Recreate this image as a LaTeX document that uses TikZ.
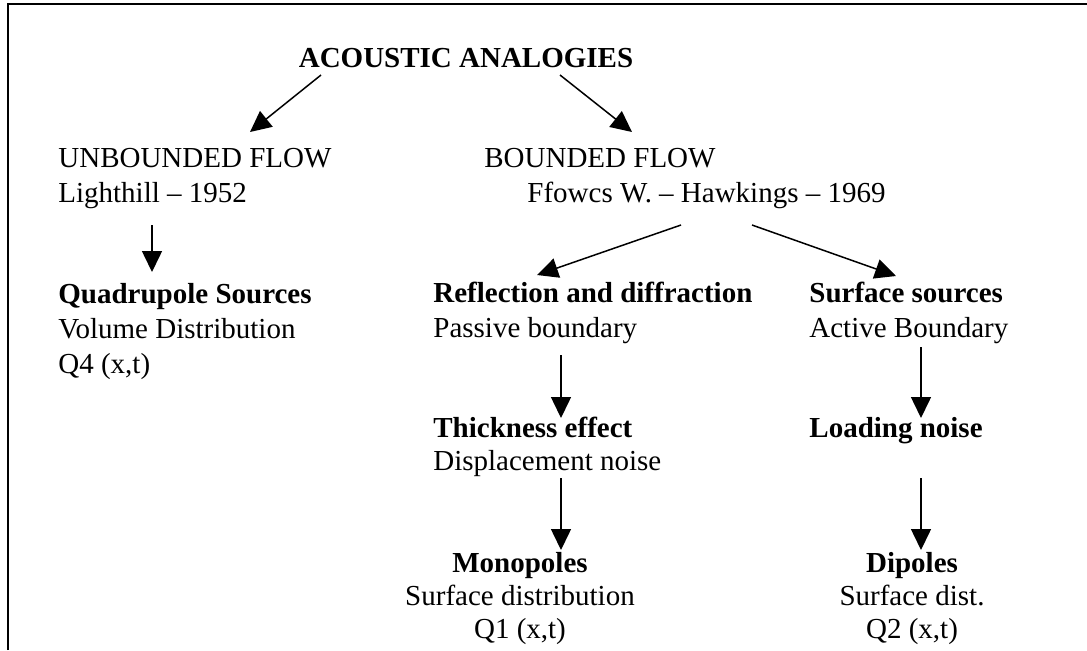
\documentclass[tikz,border=0pt]{standalone}
\usepackage{fontspec}
\setmainfont{Liberation Serif}
\usetikzlibrary{positioning,arrows.meta,calc}

\begin{document}
\begin{tikzpicture}[x=0.5pt, y=-0.5pt,
    every node/.style={inner sep=0pt, font=\fontsize{14.5}{17.4}\selectfont},
    branch/.style={anchor=base west, align=left},
    leaf/.style={anchor=base, align=center, font=\fontsize{14.5}{16.5}\selectfont},
    arrow/.style={line width=0.75pt, -{Triangle[length=10.5pt, width=10pt]}}]

\useasboundingbox (0,0) rectangle (1087,650);
\draw[line width=1pt] (8,650) -- (8,4) -- (1087,4);

\node [anchor=base] (title) at (466,67) {\textbf{ACOUSTIC ANALOGIES}};

% multi-line nodes sit on their last line
\node [branch] (unbound) at (58,202) {UNBOUNDED FLOW\\Lighthill – 1952};
\node [branch] (bound) at (484,202) {BOUNDED FLOW\\\hspace*{21.5pt}Ffowcs W. – Hawkings – 1969};

\node [branch] (quad) at (58,373) {\textbf{Quadrupole Sources}\\Volume Distribution\\Q4 (x,t)};
\node [branch] (reflect) at (433,337) {\textbf{Reflection and diffraction}\\Passive boundary};
\node [branch] (surface) at (809,337) {\textbf{Surface sources}\\Active Boundary};

\node [branch, font=\fontsize{14.5}{16.5}\selectfont] (thick) at (433,470) {\textbf{Thickness effect}\\Displacement noise};
\node [branch] (loading) at (809,437) {\textbf{Loading noise}};

\node [leaf] (mono) at (520,638) {\textbf{Monopoles}\\Surface distribution\\Q1 (x,t)};
\node [leaf] (dipole) at (912,638) {\textbf{Dipoles}\\Surface dist.\\Q2 (x,t)};

\draw [arrow] ([shift={(-145,8)}]title.base) -- ([shift={(192,-70)}]unbound.base west);
\draw [arrow] ([shift={(94,8)}]title.base) -- ([shift={(148,-70)}]bound.base west);
\draw [arrow] ([shift={(94,23)}]unbound.base west) -- ([shift={(94,-101)}]quad.base west);
\draw [arrow] ([shift={(197,23)}]bound.base west) -- ([shift={(104,-62)}]reflect.base west);
\draw [arrow] ([shift={(268,23)}]bound.base west) -- ([shift={(87,-61)}]surface.base west);
\draw [arrow] ([shift={(128,18)}]reflect.base west) -- ([shift={(128,-52)}]thick.base west);
\draw [arrow] ([shift={(112,10)}]surface.base west) -- ([shift={(112,-19)}]loading.base west);
\draw [arrow] ([shift={(128,8)}]thick.base west) -- ([shift={(41,-88)}]mono.base);
\draw [arrow] ([shift={(112,41)}]loading.base west) -- ([shift={(9,-88)}]dipole.base);

\end{tikzpicture}
\end{document}
